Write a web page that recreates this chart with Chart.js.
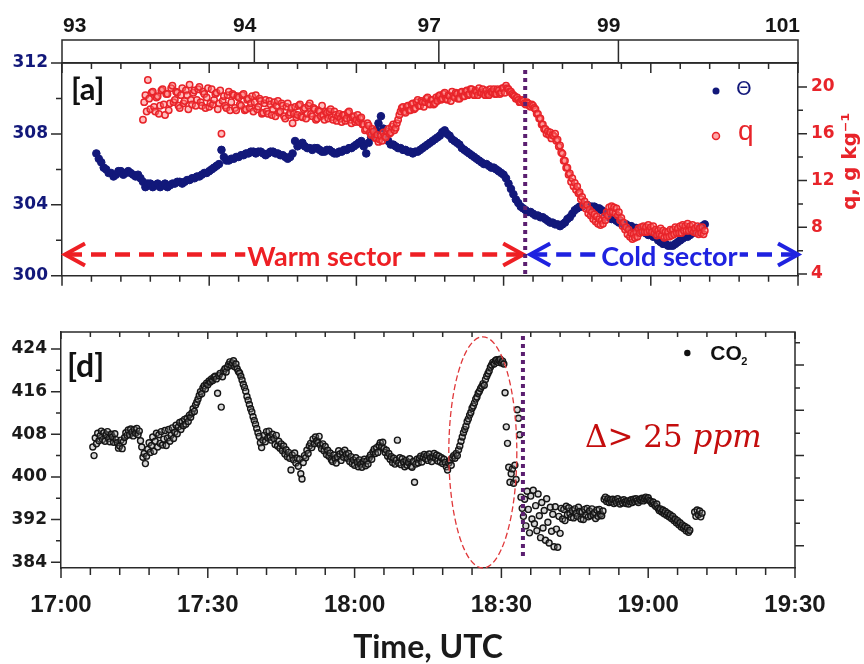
<!DOCTYPE html>
<html>
<head>
<meta charset="utf-8">
<script src="https://cdn.jsdelivr.net/npm/chart.js@4.4.1/dist/chart.umd.min.js"></script>
<style>
  body { margin: 0; background: #fff; }
  #wrap { position: relative; width: 864px; height: 664px; }
  canvas { position: absolute; left: 0; }
</style>
</head>
<body>
<div id="wrap">
  <canvas id="topChart" width="864" height="300" style="top:0"></canvas>
  <canvas id="co2Chart" width="864" height="364" style="top:300px"></canvas>
</div>
<script>
// ===============================
// Data (time = minutes after 17:00 UTC)
// ===============================
const timeTicks = [0, 30, 60, 90, 120, 150];
const timeLabels = ["17:00", "17:30", "18:00", "18:30", "19:00", "19:30"];
const topTicks = [0, 39.2, 76.8, 113.4, 150];
const topLabels = ["93", "94", "97", "99", "101"];
const thetaTicks = [300, 304, 308, 312];
const qTicks = [4, 8, 12, 16, 20];
const co2Ticks = [384, 392, 400, 408, 416, 424];
const co2RightTicks = [421, 412.5, 404, 395.6, 387.1];

// potential temperature, every half minute
const thetaStart = 7;
const thetaStep = 0.5;
const thetaValues = [
  306.9, 306.6, 306.4, 306.1, 306.0, 305.8, 305.8, 305.6, 305.7, 305.9,
  305.9, 305.7, 305.8, 305.9, 305.8, 305.7, 305.6, 305.7, 305.5, 305.3,
  305.0, 305.2, 305.2, 305.0, 305.1, 305.2, 305.0, 305.1, 305.2, 305.0,
  305.1, 305.2, 305.2, 305.3, 305.3, 305.2, 305.3, 305.4, 305.4, 305.5,
  305.5, 305.6, 305.6, 305.7, 305.8, 305.8, 305.9, 306.0, 306.1, 306.2,
  306.3, 307.1, 306.7, 306.5, 306.5, 306.6, 306.6, 306.7, 306.7, 306.8,
  306.8, 306.9, 306.9, 307.0, 307.0, 306.9, 307.0, 307.0, 306.9, 306.8,
  306.9, 307.0, 307.0, 306.9, 306.9, 306.8, 306.8, 306.7, 306.6, 306.7,
  306.9, 307.6, 307.3, 307.4, 307.5, 307.3, 307.2, 307.2, 307.1, 307.2,
  307.2, 307.1, 307.0, 307.0, 307.1, 307.1, 307.0, 306.9, 306.9, 307.0,
  307.0, 307.1, 307.1, 307.2, 307.2, 307.3, 307.4, 307.5, 307.6, 307.3,
  306.9, 307.5, 307.8, 308.0, 308.2, 308.6, 309.0, 308.3, 307.8, 307.6,
  307.4, 307.4, 307.3, 307.2, 307.2, 307.1, 307.1, 307.0, 307.0, 306.9,
  307.0, 307.0, 307.1, 307.2, 307.3, 307.4, 307.5, 307.6, 307.7, 307.8,
  307.9, 308.1, 308.2, 308.0, 307.9, 307.7, 307.6, 307.5, 307.4, 307.2,
  307.1, 307.0, 306.9, 306.8, 306.7, 306.6, 306.5, 306.4, 306.3, 306.3,
  306.2, 306.1, 306.1, 306.0, 305.9, 305.8, 305.7, 305.5, 305.2, 304.9,
  304.6, 304.3, 304.1, 303.9, 303.8, 303.7, 303.6, 303.6, 303.5, 303.4,
  303.4, 303.3, 303.3, 303.2, 303.1, 303.0, 303.0, 302.9, 302.9, 302.8,
  302.9, 303.0, 303.2, 303.3, 303.5, 303.7, 303.8, 303.9, 303.9, 304.0,
  304.0, 303.9, 303.9, 303.9, 303.8, 303.8, 303.7, 303.6, 303.5, 303.3,
  303.2, 303.2, 303.1, 303.0, 303.0, 302.9, 302.9, 302.8, 302.8, 302.7,
  302.7, 302.6, 302.6, 302.5, 302.4, 302.3, 302.3, 302.2, 302.2, 302.0,
  301.9, 301.8, 301.8, 301.7, 301.7, 301.7, 301.8, 301.9, 302.0, 302.1,
  302.2, 302.2, 302.3, 302.4, 302.5, 302.6, 302.7, 302.8, 302.9
];

// specific humidity, every quarter minute
const qStart = 16.5;
const qStep = 0.25;
const qValues = [
  17.2, 18.7, 19.3, 17.9, 20.6, 19.0, 18.1, 19.5,
  19.6, 18.3, 17.9, 19.1, 19.2, 17.7, 18.4, 19.7,
  19.8, 18.5, 17.6, 19.4, 19.4, 18.0, 18.6, 19.9,
  20.1, 18.7, 18.9, 19.6, 19.5, 18.4, 18.2, 19.3,
  19.9, 18.6, 18.8, 19.7, 19.3, 18.1, 20.2, 18.9,
  18.5, 19.5, 19.7, 18.4, 18.9, 19.8, 20.0, 18.7,
  18.4, 19.6, 19.4, 18.2, 19.1, 19.9, 18.3, 18.6,
  19.8, 18.5, 18.9, 19.4, 19.5, 18.1, 18.6, 19.7,
  16.0, 18.8, 19.2, 18.4, 18.2, 19.3, 19.6, 18.0,
  18.7, 19.4, 19.3, 18.2, 18.0, 19.2, 19.1, 18.5,
  18.4, 19.3, 19.4, 18.0, 18.1, 18.9, 19.0, 18.2,
  18.6, 19.2, 17.9, 18.7, 19.3, 18.1, 18.3, 19.0,
  18.8, 17.7, 17.8, 18.6, 18.9, 17.9, 17.7, 18.8,
  18.5, 17.6, 18.1, 18.7, 17.5, 18.4, 18.8, 17.8,
  17.9, 18.6, 18.4, 17.5, 17.3, 18.3, 18.6, 17.6,
  17.8, 18.2, 16.9, 17.7, 18.3, 17.4, 17.6, 18.4,
  18.5, 17.5, 17.4, 18.1, 18.2, 17.3, 17.7, 18.4,
  18.6, 17.7, 17.5, 18.2, 18.1, 17.2, 17.3, 18.0,
  17.9, 17.5, 18.4, 17.6, 17.2, 17.9, 17.8, 17.3,
  17.9, 18.1, 17.4, 17.2, 17.9, 17.6, 17.1, 17.5,
  17.7, 17.3, 17.0, 17.6, 17.6, 17.1, 17.3, 17.8,
  17.9, 17.2, 16.9, 17.4, 17.5, 17.0, 17.2, 17.6,
  17.0, 17.3, 17.4, 16.8, 16.8, 16.3, 16.4, 16.9,
  16.7, 16.1, 15.9, 16.4, 16.2, 15.7, 15.6, 15.9,
  15.3, 15.5, 15.8, 15.4, 16.1, 15.8, 15.7, 16.2,
  16.4, 16.0, 16.1, 16.6, 16.8, 16.3, 16.5, 16.9,
  17.2, 17.6, 17.9, 18.2, 18.3, 17.9, 17.8, 18.3,
  18.4, 18.0, 18.0, 18.5, 18.6, 18.1, 18.2, 18.7,
  18.9, 18.4, 18.4, 18.8, 18.7, 18.3, 18.7, 19.0,
  19.1, 18.6, 18.5, 18.9, 18.9, 18.5, 18.6, 19.1,
  18.8, 19.2, 19.3, 18.9, 19.0, 19.4, 19.5, 19.0,
  18.9, 19.3, 19.2, 18.8, 19.6, 19.2, 19.1, 19.5,
  19.4, 19.0, 19.0, 19.5, 19.6, 19.2, 19.2, 19.6,
  19.7, 19.3, 19.4, 19.8, 19.8, 19.4, 19.3, 19.7,
  19.6, 19.3, 19.9, 19.5, 19.5, 19.8, 19.4, 19.3,
  19.7, 19.4, 19.3, 19.8, 19.6, 19.5, 19.8, 19.4,
  19.4, 19.8, 19.7, 19.4, 19.5, 19.9, 19.9, 19.5,
  20.1, 19.9, 19.8, 19.6, 19.6, 19.4, 19.3, 19.2,
  19.0, 19.1, 18.9, 18.7, 18.7, 18.9, 18.8, 18.6,
  18.5, 18.7, 18.6, 18.4, 18.3, 18.5, 18.4, 18.2,
  18.1, 17.7, 17.7, 17.3, 17.3, 16.8, 16.8, 16.4,
  16.4, 16.0, 16.2, 15.9, 16.1, 15.6, 15.9, 15.8,
  16.0, 15.4, 15.5, 14.9, 15.0, 14.4, 14.3, 13.7,
  13.7, 13.1, 13.1, 12.5, 12.6, 11.9, 12.2, 11.5,
  11.8, 11.2, 11.5, 10.9, 11.0, 10.4, 10.6, 9.9,
  10.2, 9.6, 9.9, 9.2, 9.5, 9.0, 9.3, 8.7,
  9.1, 8.5, 8.9, 8.3, 8.7, 8.2, 8.6, 8.3,
  8.9, 8.6, 9.3, 9.0, 9.7, 9.3, 9.8, 9.3,
  9.7, 9.2, 9.6, 9.0, 9.3, 8.6, 8.8, 8.1,
  8.4, 7.8, 8.0, 7.4, 7.8, 7.2, 7.5, 7.0,
  7.4, 7.1, 7.6, 7.2, 7.9, 7.5, 8.0, 7.6,
  8.1, 7.6, 8.0, 7.6, 8.2, 7.7, 8.0, 7.6,
  8.1, 7.5, 7.8, 7.3, 7.7, 7.4, 7.9, 7.3,
  7.7, 7.1, 7.6, 7.2, 7.6, 7.2, 7.8, 7.3,
  7.8, 7.4, 8.0, 7.5, 7.9, 7.5, 8.1, 7.5,
  8.2, 7.7, 8.1, 7.7, 8.3, 7.7, 8.1, 7.8,
  8.2, 7.6, 7.9, 7.5, 8.1, 7.4, 7.9, 7.5,
  8.0, 7.4, 7.7
];

// CO2 mixing ratio, every quarter minute
const co2Start = 6.5;
const co2Step = 0.25;
const co2Values = [
  405.6, 404.0, 407.3, 406.2, 408.2, 406.8, 407.7, 408.6,
  407.0, 408.3, 406.7, 407.9, 408.5, 407.2, 406.6, 408.0,
  407.5, 406.5, 408.1, 407.0, 406.4, 405.4, 405.8, 406.9,
  405.3, 406.6, 407.4, 408.3, 407.8, 408.8, 407.9, 409.0,
  408.4, 407.7, 408.9, 408.2, 409.1, 407.9, 408.6, 406.8,
  405.6, 403.7, 404.4, 402.5, 403.9, 405.2, 406.4, 404.6,
  405.9, 407.5, 404.8, 406.7, 408.2, 405.6, 407.9, 406.3,
  408.5, 406.0, 407.1, 408.7, 405.9, 407.3, 408.9, 406.7,
  407.8, 409.2, 407.2, 408.4, 409.7, 408.1, 409.4, 410.2,
  408.9, 410.4, 409.6, 410.8, 409.9, 411.0, 410.4, 411.6,
  411.2, 412.0, 412.8, 412.3, 413.5, 414.0, 414.6, 415.3,
  416.0, 415.6, 416.7, 417.1, 416.5, 417.6, 417.3, 418.0,
  417.8, 418.4, 418.1, 418.7, 418.9, 418.4, 415.7, 419.0,
  419.4, 413.1, 418.8, 419.9, 420.3, 419.7, 420.6, 421.1,
  421.6, 420.9, 421.4, 421.8, 420.7, 421.2, 420.3, 419.8,
  419.5, 418.9, 418.2, 417.4, 416.8, 416.1, 415.1, 414.4,
  413.6, 412.8, 412.2, 411.3, 410.6, 409.9, 409.1, 408.3,
  407.6, 406.4, 405.5, 406.9, 407.8, 406.6, 408.5, 407.3,
  408.6, 407.5, 406.9, 408.0, 407.2, 406.1, 407.8, 405.8,
  406.7, 405.4, 406.2, 404.9, 405.8, 404.3, 405.1, 403.8,
  404.6, 403.5, 401.3, 404.1, 403.2, 404.5, 402.6, 403.5,
  402.0, 403.3, 400.6, 399.6, 402.7, 404.0, 403.6, 405.0,
  404.4, 405.8, 406.3, 405.5, 407.1, 406.2, 407.5, 406.8,
  406.4, 407.6, 406.0, 405.3, 406.2, 404.9, 405.7, 404.2,
  405.0, 403.9, 404.5, 403.2, 402.9, 404.1, 403.4, 402.6,
  403.8, 404.9, 404.3, 403.1, 404.6, 403.7, 405.0, 404.2,
  403.5, 404.4, 402.9, 403.8, 402.5, 403.2, 402.2, 403.6,
  402.8, 401.9, 403.2, 402.4, 401.8, 402.9, 403.3, 402.1,
  403.0, 402.4, 403.6, 404.1, 403.3, 404.7, 405.2, 404.4,
  405.5, 404.6, 405.9, 406.4, 405.7, 406.5, 405.3, 404.6,
  405.0, 403.9, 404.4, 403.3, 403.8, 402.7, 403.5, 402.4,
  403.1, 406.9, 402.6, 403.6, 402.3, 403.4, 402.8, 401.9,
  403.1, 402.2, 402.7, 403.4, 402.0, 401.8, 402.9, 399.0,
  402.4, 403.3, 402.6, 403.5, 403.9, 402.8, 403.7, 404.2,
  403.4, 404.0, 403.1, 404.3, 403.6, 402.9, 403.8, 404.4,
  403.5, 404.1, 403.0, 403.9, 402.8, 403.6, 402.5, 403.3,
  402.7, 401.9, 401.3, 402.6, 403.1, 402.2, 403.6, 404.0,
  403.5, 404.4, 404.0, 405.1, 405.8, 406.7, 407.5, 408.3,
  408.9, 409.5, 410.4, 410.9, 411.6, 412.1, 412.9, 413.3,
  413.9, 414.6, 415.0, 415.7, 416.1, 416.6, 417.0, 417.5,
  417.2, 418.3, 418.9, 419.4, 419.9, 420.6, 421.0, 421.5,
  421.2, 421.8, 422.0, 421.5, 421.9, 422.1, 421.4, 421.7,
  421.2, 415.8, 409.4, 406.3, 401.8, 399.0, 400.6, 401.5,
  398.8, 402.2, 399.5, 412.6, 411.0, 407.9, 396.2, 394.1,
  392.6, 395.8, 390.8, 397.3, 393.9, 389.5, 396.4, 392.1,
  397.5, 391.2, 394.6, 389.9, 396.8, 392.7, 388.6, 395.2,
  390.4, 393.7, 388.1, 395.9, 391.5, 387.6, 394.3, 389.8,
  393.0, 386.9, 394.4, 390.2, 386.8, 392.6, 389.4, 394.1,
  392.1, 393.9, 391.8, 394.5, 392.9, 394.2, 393.1, 392.4,
  393.7, 392.3, 394.0, 393.2, 392.6, 394.3, 393.5, 392.1,
  393.4, 392.0, 393.9, 392.8, 394.1, 392.5, 393.6, 392.7,
  394.0, 392.9, 393.3, 392.2, 393.8, 392.6, 393.9, 393.0,
  392.7, 393.6, 395.8, 396.2, 395.4, 395.9, 395.2, 395.7,
  395.3, 395.8, 395.0, 395.6, 395.2, 395.9, 395.4, 394.9,
  395.6, 395.1, 395.7, 395.3, 395.0, 395.5, 394.9, 395.4,
  395.7, 395.2, 395.8, 395.4, 395.9, 395.5, 395.2, 395.8,
  395.6, 396.0, 395.5, 395.9, 396.2, 395.7, 396.1, 395.6,
  395.4, 395.0, 395.3, 394.8, 394.5, 394.9, 394.1, 393.7,
  394.0, 393.4, 393.8, 393.1, 393.5, 392.8, 393.2, 392.5,
  392.9, 392.2, 392.6, 391.8, 392.1, 391.4, 391.8, 391.0,
  391.4, 390.6, 391.0, 390.3, 390.7, 389.9, 390.4, 389.6,
  390.0, null, null, null, 393.4, 392.6, 393.8, 392.9,
  393.6, 392.5, 393.2
];

const frontTime = 94.4;   // purple dotted line (front passage)

// ===============================
// Helpers
// ===============================
const AXIS = "#2a2a2a";
const NAVY = "#12187a";
const RED = "#e8242a";
const BLUE = "#1f22e0";
const PURPLE = "#5b1f70";

Chart.defaults.font.family = "'DejaVu Sans', sans-serif";
Chart.defaults.animation = false;

function series(start, step, values) {
  return values.map((v, i) => ({ x: start + i * step, y: v }));
}

function fixedTicks(list) {
  return scale => { scale.ticks = list.map(v => ({ value: v })); };
}

const minorTimes = [];
for (let m = 6; m < 150; m += 6) if (m % 30) minorTimes.push(m);

function tickMarks(ctx, scale, values, edge, dir, len) {
  ctx.beginPath();
  values.forEach(v => {
    const p = scale.getPixelForValue(v);
    if (scale.isHorizontal()) { ctx.moveTo(p, edge); ctx.lineTo(p, edge + dir * len); }
    else { ctx.moveTo(edge, p); ctx.lineTo(edge + dir * len, p); }
  });
  ctx.stroke();
}

function chevron(ctx, x, y, dir) {
  ctx.beginPath();
  ctx.moveTo(x + dir * 20, y - 11);
  ctx.lineTo(x, y);
  ctx.lineTo(x + dir * 20, y + 11);
  ctx.stroke();
}

function sectorArrow(ctx, x0, x1, y, color, label, labelX) {
  ctx.save();
  ctx.font = "bold 27px Lato";
  const w = ctx.measureText(label).width;
  ctx.strokeStyle = color;
  ctx.lineWidth = 4.5;
  ctx.setLineDash([15, 9]);
  ctx.beginPath();
  ctx.moveTo(x0 + 2, y); ctx.lineTo(labelX - w / 2 - 2, y);
  ctx.moveTo(x1 - 2, y); ctx.lineTo(labelX + w / 2 + 2, y);
  ctx.stroke();
  ctx.setLineDash([]);
  ctx.lineWidth = 4;
  chevron(ctx, x0, y, 1);
  chevron(ctx, x1, y, -1);
  ctx.fillStyle = color;
  ctx.textAlign = "center";
  ctx.textBaseline = "middle";
  ctx.fillText(label, labelX, y + 3);
  ctx.restore();
}

function frontLine(ctx, scale, y0, y1) {
  ctx.save();
  ctx.strokeStyle = PURPLE;
  ctx.lineWidth = 4;
  ctx.setLineDash([4, 4]);
  const px = scale.getPixelForValue(frontTime);
  ctx.beginPath();
  ctx.moveTo(px, y0);
  ctx.lineTo(px, y1);
  ctx.stroke();
  ctx.restore();
}

// ===============================
// Upper panel decorations
// ===============================
const topDeco = {
  id: "topDeco",
  afterDraw(chart) {
    const { ctx, chartArea: a } = chart;
    const { x, xTop, theta, q } = chart.scales;
    ctx.save();
    ctx.strokeStyle = AXIS;
    ctx.lineWidth = 1.5;

    // box of the upper axis
    ctx.strokeRect(xTop.left, xTop.top, xTop.right - xTop.left, xTop.bottom - xTop.top);
    tickMarks(ctx, xTop, topTicks.slice(1, -1), xTop.top, 1, xTop.bottom - xTop.top);
    ctx.fillStyle = "#151515";
    ctx.font = "bold 21px 'Liberation Sans'";
    ctx.textBaseline = "alphabetic";
    topLabels.forEach((t, i) => {
      const px = xTop.getPixelForValue(topTicks[i]);
      ctx.textAlign = i === 0 ? "left" : "right";
      ctx.fillText(t, i === 0 ? px + 1 : px + 2, xTop.top - 8);
    });

    // tick marks
    tickMarks(ctx, x, timeTicks, a.bottom, 1, 10);
    tickMarks(ctx, x, minorTimes, a.bottom, 1, 6);
    tickMarks(ctx, x, timeTicks, a.top, 1, 10);
    tickMarks(ctx, x, minorTimes, a.top, 1, 6);
    tickMarks(ctx, theta, thetaTicks, a.left, -1, 11);
    tickMarks(ctx, theta, [302, 306, 310], a.left, -1, 6);
    tickMarks(ctx, q, qTicks, a.right, 1, 9);
    tickMarks(ctx, q, [6, 10, 14, 18], a.right, 1, 5);

    // sectors and front
    const ay = theta.getPixelForValue(301.2);
    const xf = x.getPixelForValue(frontTime);
    sectorArrow(ctx, a.left + 3, xf - 2, ay, "#ee1f24", "Warm sector", x.getPixelForValue(53.5));
    sectorArrow(ctx, xf + 5, a.right, ay, BLUE, "Cold sector", x.getPixelForValue(123.8));
    frontLine(ctx, x, a.top + 7, a.bottom);

    // panel label
    ctx.fillStyle = "#111";
    ctx.font = "bold 31px Lato";
    ctx.textAlign = "left";
    ctx.textBaseline = "alphabetic";
    ctx.fillText("[a]", a.left + 9, a.top + 37);

    // legend
    const lx = a.right - 82;
    ctx.beginPath(); ctx.arc(lx, a.top + 28, 3.5, 0, Math.PI * 2);
    ctx.fillStyle = NAVY; ctx.fill();
    ctx.font = "20px 'DejaVu Sans'";
    ctx.textBaseline = "middle";
    ctx.fillText("\u0398", lx + 20, a.top + 27);
    ctx.beginPath(); ctx.arc(lx, a.top + 73, 3.5, 0, Math.PI * 2);
    ctx.fillStyle = "rgba(255,110,110,0.6)"; ctx.fill();
    ctx.strokeStyle = RED; ctx.lineWidth = 1.5; ctx.stroke();
    ctx.fillStyle = RED;
    ctx.font = "28px 'Liberation Sans'";
    ctx.textBaseline = "alphabetic";
    ctx.fillText("q", lx + 22, a.top + 77);

    // right axis title
    ctx.save();
    ctx.translate(q.right - 13, (a.top + a.bottom) / 2 - 8);
    ctx.rotate(-Math.PI / 2);
    ctx.fillStyle = RED;
    ctx.font = "bold 20px 'DejaVu Sans'";
    ctx.textAlign = "center";
    ctx.textBaseline = "middle";
    ctx.fillText("q, g kg\u207B\u00B9", 0, 0);
    ctx.restore();

    ctx.restore();
  }
};

// ===============================
// Lower panel decorations
// ===============================
const co2Deco = {
  id: "co2Deco",
  afterDraw(chart) {
    const { ctx, chartArea: a } = chart;
    const { x, y } = chart.scales;
    ctx.save();
    ctx.strokeStyle = AXIS;
    ctx.lineWidth = 1.5;
    ctx.beginPath();
    ctx.moveTo(a.left, a.top); ctx.lineTo(a.right, a.top); ctx.lineTo(a.right, a.bottom);
    ctx.stroke();

    tickMarks(ctx, x, timeTicks, a.bottom, 1, 10);
    tickMarks(ctx, x, minorTimes, a.bottom, 1, 7);
    tickMarks(ctx, x, timeTicks, a.top, 1, 7);
    tickMarks(ctx, x, minorTimes, a.top, 1, 5);
    tickMarks(ctx, y, co2Ticks, a.left, -1, 10);
    tickMarks(ctx, y, [388, 396, 404, 412, 420], a.left, -1, 5);
    tickMarks(ctx, y, co2RightTicks, a.right, 1, 9);
    tickMarks(ctx, y, co2RightTicks.map(v => v + 4.2), a.right, 1, 5);

    // ellipse round the CO2 rise
    const cx = x.getPixelForValue(86.2), cy = y.getPixelForValue(404.6);
    const rx = x.getPixelForValue(86.2 + 6.95) - cx;
    const ry = cy - y.getPixelForValue(404.6 + 21.7);
    ctx.save();
    ctx.strokeStyle = "#e0383a";
    ctx.lineWidth = 1.3;
    ctx.setLineDash([6, 3]);
    ctx.beginPath();
    ctx.ellipse(cx, cy, rx, ry, 0, 0, Math.PI * 2);
    ctx.stroke();
    ctx.restore();

    frontLine(ctx, x, a.top + 4, a.bottom - 10);

    // panel label
    ctx.fillStyle = "#111";
    ctx.font = "bold 32px Lato";
    ctx.textAlign = "left";
    ctx.textBaseline = "alphabetic";
    ctx.fillText("[d]", a.left + 6, a.top + 45);

    // legend
    const lx = x.getPixelForValue(128.0);
    ctx.beginPath(); ctx.arc(lx, a.top + 21, 3.2, 0, Math.PI * 2);
    ctx.fillStyle = "#111"; ctx.fill();
    ctx.font = "bold 21px 'Liberation Sans'";
    ctx.fillText("CO", lx + 23, a.top + 28);
    ctx.font = "bold 11px 'Liberation Sans'";
    ctx.fillText("2", lx + 54, a.top + 33);

    // delta annotation
    const tx = x.getPixelForValue(107.1), ty = y.getPixelForValue(405.6);
    ctx.fillStyle = "#c40d0d";
    ctx.font = "31px 'DejaVu Serif'";
    ctx.fillText("\u0394> 25 ", tx, ty);
    const w = ctx.measureText("\u0394> 25 ").width;
    ctx.font = "italic 31px 'DejaVu Serif'";
    ctx.fillText("ppm", tx + w, ty);

    ctx.restore();
  }
};

// ===============================
// Upper panel: Theta and q
// ===============================
new Chart(document.getElementById("topChart"), {
  type: "scatter",
  data: {
    datasets: [
      {
        label: "q",
        yAxisID: "q",
        data: series(qStart, qStep, qValues),
        pointRadius: 3.2,
        borderWidth: 1.5,
        borderColor: RED,
        backgroundColor: "rgba(255,110,110,0.45)"
      },
      {
        label: "\u0398",
        yAxisID: "theta",
        data: series(thetaStart, thetaStep, thetaValues),
        pointRadius: 3.8,
        borderWidth: 1,
        borderColor: NAVY,
        backgroundColor: NAVY
      }
    ]
  },
  options: {
    responsive: false,
    animation: false,
    layout: { padding: { top: 40, left: 0, right: 0, bottom: 0 } },
    plugins: { legend: { display: false }, tooltip: { enabled: false } },
    scales: {
      x: {
        type: "linear", position: "bottom", min: 0, max: 150,
        ticks: { display: false },
        grid: { display: false, drawTicks: false },
        border: { color: AXIS, width: 1.5 },
        afterFit: s => { s.height = 15; }
      },
      xTop: {
        type: "linear", position: "top", min: 0, max: 150,
        ticks: { display: false },
        grid: { display: false, drawTicks: false },
        border: { color: AXIS, width: 1.5 },
        afterFit: s => { s.height = 23; }
      },
      theta: {
        type: "linear", position: "left", min: 300, max: 312,
        afterBuildTicks: fixedTicks(thetaTicks),
        ticks: { color: NAVY, padding: 14, font: { size: 17, weight: "bold" } },
        grid: { display: false, drawTicks: false },
        border: { color: AXIS, width: 1.5 },
        afterFit: s => { s.width = 62; }
      },
      q: {
        type: "linear", position: "right", min: 3.85, max: 22.05,
        afterBuildTicks: fixedTicks(qTicks),
        ticks: { color: RED, padding: 13, font: { size: 17, weight: "bold" } },
        grid: { display: false, drawTicks: false },
        border: { color: AXIS, width: 1.5 },
        afterFit: s => { s.width = 66; }
      }
    }
  },
  plugins: [topDeco]
});

// ===============================
// Lower panel: CO2
// ===============================
new Chart(document.getElementById("co2Chart"), {
  type: "scatter",
  data: {
    datasets: [{
      label: "CO2",
      data: series(co2Start, co2Step, co2Values),
      pointRadius: 3,
      borderWidth: 1.4,
      borderColor: "#151515",
      backgroundColor: "rgba(140,140,140,0.35)"
    }]
  },
  options: {
    responsive: false,
    animation: false,
    layout: { padding: { top: 32, left: 0, right: 69, bottom: 0 } },
    plugins: { legend: { display: false }, tooltip: { enabled: false } },
    scales: {
      x: {
        type: "linear", position: "bottom", min: 0, max: 150,
        afterBuildTicks: fixedTicks(timeTicks),
        ticks: {
          color: "#1a1a1a", padding: 23, autoSkip: false, maxRotation: 0,
          font: { family: "'Liberation Sans'", size: 24, weight: "bold" },
          callback: v => timeLabels[timeTicks.indexOf(v)]
        },
        title: {
          display: true, text: "Time, UTC", color: "#1a1a1a",
          font: { family: "Lato", size: 32, weight: "bold", lineHeight: 1.05 },
          padding: { top: 0, bottom: 0 }
        },
        grid: { display: false, drawTicks: false },
        border: { color: AXIS, width: 1.5 },
        afterFit: s => { s.height = 96; }
      },
      y: {
        type: "linear", position: "left", min: 382.9, max: 427.2,
        afterBuildTicks: fixedTicks(co2Ticks),
        ticks: { color: "#1a1a1a", padding: 14, font: { size: 17, weight: "bold" } },
        grid: { display: false, drawTicks: false },
        border: { color: AXIS, width: 1.5 },
        afterFit: s => { s.width = 61; }
      }
    }
  },
  plugins: [co2Deco]
});
</script>
</body>
</html>
